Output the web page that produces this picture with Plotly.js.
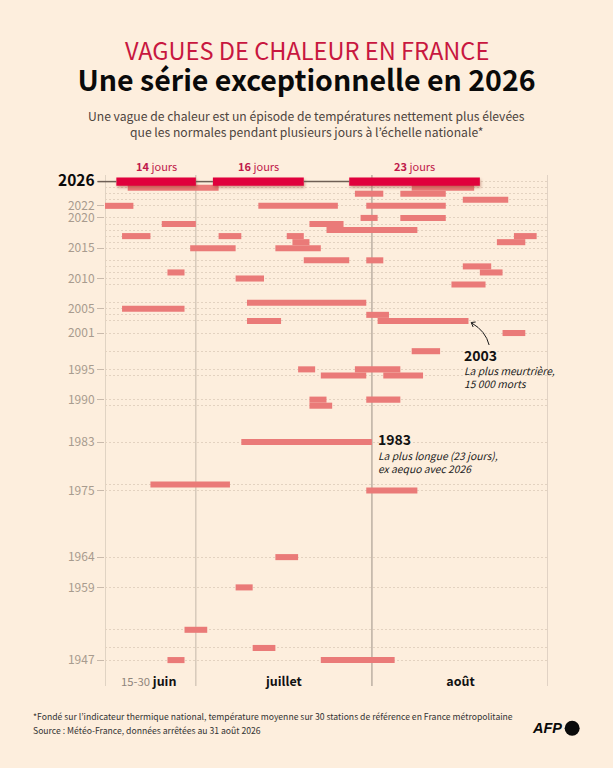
<!DOCTYPE html>
<html><head><meta charset="utf-8">
<script src="https://cdn.plot.ly/plotly-3.0.1.min.js"></script>
<style>html,body{margin:0;padding:0;background:#fdeedd}</style></head>
<body><div id="chart" style="width:613px;height:768px"></div>
<script>
// days counted from 15 June (0), 1 July = 16, 1 Aug = 47, 1 Sept = 78
const waveYears = [2025,2025,2024,2024,2023,2022,2022,2022,2020,2020,2019,2019,2018,2017,2017,2017,2017,2016,2016,2015,2015,2013,2013,2012,2011,2011,2010,2009,2006,2005,2004,2003,2003,2001,1998,1995,1995,1994,1994,1990,1990,1989,1983,1976,1975,1964,1959,1952,1949,1947,1947];
const waveStart = [4,54,44,52,63,0,27,46,45,52,10,36,39,3,20,32,72,33,69,15,30,35,46,63,11,66,23,61,25,3,46,25,48,70,54,34,44,38,49,36,46,36,24,8,46,30,23,14,26,11,38];
const waveEnd   = [20,65,49,60,71,5,41,60,48,60,16,42,55,8,24,35,76,36,74,23,38,43,49,68,14,70,28,67,46,14,50,31,64,74,59,37,52,46,56,39,52,40,47,22,55,34,26,18,30,14,51];
const year2026 = [2026,2026,2026];
const start2026 = [2,19,43];
const end2026 = [16,35,66];
const durationLabels = ['14','16','23'];
const labelledYears = [2026,2022,2020,2015,2010,2005,2001,1995,1990,1983,1975,1964,1959,1947];
const monthPositions = [7.7,31.5,62.6];
const monthLabels = ['<span style="color:#8f857c;font-size:11.3px">15-30</span> <b>juin</b>','<b>juillet</b>','<b>août</b>'];
const monthBounds = [0,16,47,78];
const boundColors = ['#c4b7aa','#c4b7aa','#9c9087','#c4b7aa'];

const FONT = '"Noto Sans CJK JP","Noto Sans",sans-serif';
const W=613,H=768,L=104.5,R=548.5,T=175,B=686;
const px = x => (x-L)/(R-L);
const py = y => (B-y)/(B-T);
const note = (x,y,text,size,color,anchor,extra) => Object.assign({xref:'paper',yref:'paper',x:px(x),y:py(y),text,showarrow:false,
  xanchor:anchor||'left',yanchor:'middle',align:anchor||'left',borderpad:0,font:{family:FONT,size,color}},extra||{});
const diff = (a,b) => a.map((v,i)=>v-b[i]);
const uniqueYears = [...new Set(waveYears)];

const traces = [
 {type:'bar',orientation:'h',name:'Vagues de chaleur',y:waveYears,base:waveStart,x:diff(waveEnd,waveStart),width:1,
  marker:{color:'#ea7a78',line:{width:0}},hoverinfo:'skip'},
 {type:'bar',orientation:'h',name:'2026',y:year2026,base:start2026,x:diff(end2026,start2026),width:1.35,
  marker:{color:'#e0003c',line:{width:0}},hoverinfo:'skip'}
];

const annotations = [
 note(306.5,49.5,'VAGUES DE CHALEUR EN FRANCE',23.6,'#c8173f','center'),
 note(306.5,115.5,'Une vague de chaleur est un épisode de températures nettement plus élevées',12.15,'#4d443d','center'),
 note(306.5,131.5,'que les normales pendant plusieurs jours à l’échelle nationale*',12.15,'#4d443d','center'),
 note(463.5,354.5,'<b>2003</b>',14,'#111'),
 note(463.5,370,'<i>La plus meurtrière,</i>',10.3,'#222'),
 note(463.5,383,'<i>15 000 morts</i>',10.3,'#222'),
 note(377,439.5,'<b>1983</b>',14,'#111'),
 note(377,455,'<i>La plus longue (23 jours),</i>',10.3,'#222'),
 note(377,468,'<i>ex aequo avec 2026</i>',10.3,'#222'),
 note(31.5,715.5,'*Fondé sur l’indicateur thermique national, température moyenne sur 30 stations de référence en France métropolitaine',8.65,'#333'),
 note(31.5,730,'Source : Météo-France, données arrêtées au 31 août 2026',8.65,'#333'),
 note(564,728,'<b><i>AFP</i></b>',14.5,'#0a0a0a','right',{font:{family:'"Liberation Sans",sans-serif',size:14.5,color:'#0a0a0a'}})
];
durationLabels.forEach((d,i)=>{
  annotations.push({xref:'x',yref:'paper',x:(start2026[i]+end2026[i])/2,y:py(166),text:'<b>'+d+'</b> jours',showarrow:false,
   xanchor:'center',yanchor:'middle',borderpad:0,font:{family:FONT,size:11,color:'#c0194a'}});
});

const path = pts => pts.map(p=>typeof p==='string'?p:px(p[0])+' '+py(p[1])).join(' ');
const shapes = monthBounds.map((m,i)=>({type:'line',layer:'below',xref:'x',yref:'paper',x0:m,x1:m,y0:0,y1:1,line:{color:boundColors[i],width:1}}));
const rule2026 = {type:'line',layer:'above',yref:'y',y0:2026,y1:2026,line:{color:'#6e5f55',width:1.5}};
shapes.push(
 Object.assign({},rule2026,{xref:'paper',x0:px(97),x1:px(L+start2026[0]*(R-L)/78)}),
 Object.assign({},rule2026,{xref:'x',x0:end2026[0],x1:start2026[1]}),
 Object.assign({},rule2026,{xref:'x',x0:end2026[1],x1:start2026[2]}),
 {type:'path',xref:'paper',yref:'paper',line:{color:'#1a1a1a',width:1},
  path:'M '+path([[489.5,345]])+' Q '+path([[486,331],[472,323]])},
 {type:'path',xref:'paper',yref:'paper',line:{color:'#1a1a1a',width:1},
  path:'M '+path([[476,322]])+' L '+path([[471.5,322.5]])+' L '+path([[473.5,327]])},
 {type:'circle',xref:'paper',yref:'paper',x0:px(565.2),x1:px(580.2),y0:py(720.8),y1:py(735.8),fillcolor:'#0a0a0a',line:{width:0}}
);

const layout = {
 width:W,height:H,margin:{l:L,r:W-R,t:T,b:H-B,pad:0},
 paper_bgcolor:'#fdeedd',plot_bgcolor:'#fdeedd',showlegend:false,barmode:'overlay',
 font:{family:FONT},
 title:{text:'<b>Une série exceptionnelle en 2026</b>',x:0.5,xanchor:'center',xref:'container',y:1-81/H,yanchor:'middle',
        font:{family:FONT,size:28.5,color:'#0a0a0a'}},
 xaxis:{range:[0,78],tickmode:'array',tickvals:monthPositions,ticktext:monthLabels,ticks:'',showgrid:false,zeroline:false,
        ticklabelposition:'inside',ticklabelstandoff:-5,tickfont:{family:FONT,size:12.5,color:'#111'},showline:false},
 yaxis:{range:[1942.72,2027.09],tickmode:'array',tickvals:labelledYears,
        ticktext:labelledYears.map(y=>y===2026?'<span style="color:#0a0a0a;font-size:15.5px"><b>2026</b></span>':String(y)),
        ticks:'outside',ticklen:7,tickwidth:1,tickcolor:'#c9baac',tickfont:{family:FONT,size:12,color:'#a89b8e'},
        showgrid:true,griddash:'2px,2px',gridcolor:'#e3d2c0',gridwidth:1,zeroline:false,showline:false,
        minor:{tickmode:'array',tickvals:uniqueYears,showgrid:true,griddash:'2px,2px',gridcolor:'#e3d2c0',gridwidth:1,ticks:''}},
 annotations,shapes
};
Plotly.newPlot('chart',traces,layout,{staticPlot:true,displayModeBar:false}).then(()=>{
  const groups=document.querySelectorAll('.barlayer .trace');
  if(groups.length) groups[groups.length-1].style.filter='drop-shadow(1px 2px 1.5px rgba(150,60,40,0.45))';
});
</script></body></html>
